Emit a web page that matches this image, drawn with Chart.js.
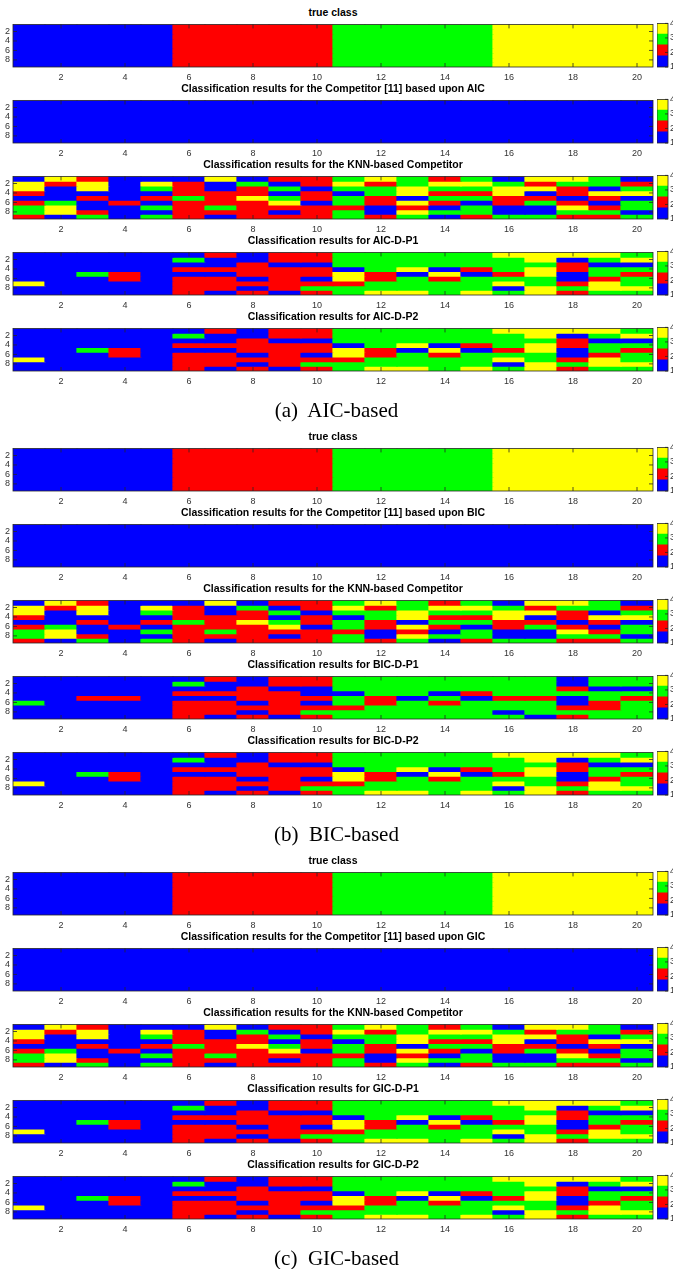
<!DOCTYPE html>
<html>
<head>
<meta charset="utf-8">
<script src="https://cdn.jsdelivr.net/npm/chart.js@4.4.1/dist/chart.umd.min.js"></script>
<style>
  html, body { margin: 0; padding: 0; background: #fff; overflow: hidden; }
  #page { position: relative; width: 673px; height: 1269px; overflow: hidden; }
  canvas { position: absolute; }
  .ptitle {
    position: absolute; left: 13px; width: 640px; text-align: center;
    font: bold 10.5px "Liberation Sans", Arial, sans-serif; color: #000;
    line-height: 12px; white-space: nowrap;
  }
  .caption {
    position: absolute; left: 0; width: 673px; text-align: center;
    font: 21px "Liberation Serif", "Times New Roman", serif; color: #000;
    white-space: pre; line-height: 24px;
  }
</style>
</head>
<body>
<div id="page"></div>
<script>
// Class maps: 9 rows (top to bottom) x 20 columns. 1 blue, 2 red, 3 green, 4 yellow

const xLabels = ['1','2','3','4','5','6','7','8','9','10','11','12','13','14','15','16','17','18','19','20'];
const yRows = [1, 2, 3, 4, 5, 6, 7, 8, 9];
const yTicks = [2, 4, 6, 8];
const classColors = { 1: '#0000ff', 2: '#ff0000', 3: '#00ff00', 4: '#ffff00' };

// colorbar
const cbEdges = [1, 1.75, 2.5, 3.25, 4];
const cbColors = ['#0000ff', '#ff0000', '#00ff00', '#ffff00'];
const cbTicks = [1, 2, 3, 4];

const trueClass = [
  [1,1,1,1,1,2,2,2,2,2,3,3,3,3,3,4,4,4,4,4],
  [1,1,1,1,1,2,2,2,2,2,3,3,3,3,3,4,4,4,4,4],
  [1,1,1,1,1,2,2,2,2,2,3,3,3,3,3,4,4,4,4,4],
  [1,1,1,1,1,2,2,2,2,2,3,3,3,3,3,4,4,4,4,4],
  [1,1,1,1,1,2,2,2,2,2,3,3,3,3,3,4,4,4,4,4],
  [1,1,1,1,1,2,2,2,2,2,3,3,3,3,3,4,4,4,4,4],
  [1,1,1,1,1,2,2,2,2,2,3,3,3,3,3,4,4,4,4,4],
  [1,1,1,1,1,2,2,2,2,2,3,3,3,3,3,4,4,4,4,4],
  [1,1,1,1,1,2,2,2,2,2,3,3,3,3,3,4,4,4,4,4],
];

const competitorClass = [
  [1,1,1,1,1,1,1,1,1,1,1,1,1,1,1,1,1,1,1,1],
  [1,1,1,1,1,1,1,1,1,1,1,1,1,1,1,1,1,1,1,1],
  [1,1,1,1,1,1,1,1,1,1,1,1,1,1,1,1,1,1,1,1],
  [1,1,1,1,1,1,1,1,1,1,1,1,1,1,1,1,1,1,1,1],
  [1,1,1,1,1,1,1,1,1,1,1,1,1,1,1,1,1,1,1,1],
  [1,1,1,1,1,1,1,1,1,1,1,1,1,1,1,1,1,1,1,1],
  [1,1,1,1,1,1,1,1,1,1,1,1,1,1,1,1,1,1,1,1],
  [1,1,1,1,1,1,1,1,1,1,1,1,1,1,1,1,1,1,1,1],
  [1,1,1,1,1,1,1,1,1,1,1,1,1,1,1,1,1,1,1,1],
];

const knnClass = [
  [1,4,2,1,1,1,4,1,2,2,3,4,3,2,3,1,4,4,3,1],
  [4,2,4,1,4,2,1,3,1,2,4,2,3,4,4,3,2,3,3,2],
  [4,1,4,1,3,2,1,2,3,1,3,3,4,3,3,4,4,2,1,3],
  [2,1,1,1,1,2,2,2,1,2,1,3,4,2,2,4,1,2,4,4],
  [1,1,2,1,2,3,2,4,3,2,3,2,1,3,3,2,2,1,2,1],
  [2,3,1,2,1,2,2,2,4,1,3,2,4,2,1,2,3,2,1,3],
  [3,4,1,1,3,2,3,2,2,2,2,1,2,1,3,1,1,4,2,3],
  [3,4,2,1,1,2,2,2,1,2,3,1,4,3,3,1,1,3,3,1],
  [2,1,3,1,3,2,1,2,2,2,3,2,3,1,2,3,3,2,2,3],
];

const aicP1Class = [
  [1,1,1,1,1,1,2,1,2,2,3,3,3,3,3,4,4,4,4,3],
  [1,1,1,1,1,3,1,1,2,2,3,3,3,3,3,3,4,1,3,4],
  [1,1,1,1,1,1,1,2,1,1,3,3,3,3,3,3,3,2,1,1],
  [1,1,1,1,1,2,2,2,2,2,1,3,4,1,2,3,4,2,3,3],
  [1,1,3,2,1,1,1,2,2,2,4,2,1,4,1,2,4,1,3,2],
  [1,1,1,2,1,2,2,1,2,1,4,2,3,2,3,3,3,1,2,3],
  [4,1,1,1,1,2,2,2,2,2,2,3,3,3,3,4,3,2,4,3],
  [1,1,1,1,1,2,2,1,2,3,3,3,3,3,3,1,4,3,4,4],
  [1,1,1,1,1,2,1,2,1,2,3,4,4,3,4,3,4,2,3,3],
];
const aicP2Class = aicP1Class;

const bicP1Class = [
  [1,1,1,1,1,1,2,1,2,2,3,3,3,3,3,3,3,1,3,3],
  [1,1,1,1,1,3,1,1,2,2,3,3,3,3,3,3,3,1,3,3],
  [1,1,1,1,1,1,1,2,1,1,3,3,3,3,3,3,3,2,1,1],
  [1,1,1,1,1,2,2,2,2,1,1,3,3,1,2,3,3,3,3,3],
  [1,1,2,2,1,1,1,2,2,2,3,2,1,3,1,2,2,1,3,2],
  [3,1,1,1,1,2,2,1,2,1,3,2,3,2,3,3,3,1,2,3],
  [1,1,1,1,1,2,2,2,2,2,2,3,3,3,3,3,3,2,2,3],
  [1,1,1,1,1,2,2,1,2,3,3,3,3,3,3,1,3,3,3,3],
  [1,1,1,1,1,2,1,2,1,2,3,3,3,3,3,3,1,2,3,3],
];
const bicP2Class = aicP1Class;
const gicP1Class = aicP1Class;
const gicP2Class = aicP1Class;

const groups = [
  {
    caption: '(a)  AIC-based',
    titles: ['true class', 'Classification results for the Competitor [11] based upon AIC',
      'Classification results for the KNN-based Competitor',
      'Classification results for AIC-D-P1', 'Classification results for AIC-D-P2'],
    maps: [trueClass, competitorClass, knnClass, aicP1Class, aicP2Class],
  },
  {
    caption: '(b)  BIC-based',
    titles: ['true class', 'Classification results for the Competitor [11] based upon BIC',
      'Classification results for the KNN-based Competitor',
      'Classification results for BIC-D-P1', 'Classification results for BIC-D-P2'],
    maps: [trueClass, competitorClass, knnClass, bicP1Class, bicP2Class],
  },
  {
    caption: '(c)  GIC-based',
    titles: ['true class', 'Classification results for the Competitor [11] based upon GIC',
      'Classification results for the KNN-based Competitor',
      'Classification results for GIC-D-P1', 'Classification results for GIC-D-P2'],
    maps: [trueClass, competitorClass, knnClass, gicP1Class, gicP2Class],
  },
];

// ── layout ──
const GROUP_STEP = 424;
const PANEL_STEP = 76;
const FIRST_TOP = 20;
const MAP_H = 47;
const PAD_TOP = 4;
const X_AXIS_H = 17;
const CANVAS_H = PAD_TOP + MAP_H + X_AXIS_H;
const AXIS_COLOR = '#262626';
const TICK_FONT = { family: '"Liberation Sans", Arial, sans-serif', size: 9 };

// MATLAB style box with inward ticks
const boxPlugin = {
  id: 'matlabBox',
  afterDraw(chart, args, opts) {
    const { ctx, chartArea: a } = chart;
    ctx.save();
    ctx.strokeStyle = AXIS_COLOR;
    ctx.lineWidth = 0.8;
    ctx.strokeRect(a.left, a.top, a.right - a.left, a.bottom - a.top);
    ctx.beginPath();
    const len = 4;
    if (opts.xTicks) {
      const xs = chart.scales.x;
      xs.ticks.forEach((t, i) => {
        if ((i + 1) % 2) return;
        const px = xs.getPixelForTick(i);
        ctx.moveTo(px, a.bottom); ctx.lineTo(px, a.bottom - len);
        ctx.moveTo(px, a.top); ctx.lineTo(px, a.top + len);
      });
    }
    const ys = chart.scales.y;
    (opts.yTicks || []).forEach((v) => {
      const py = ys.getPixelForValue(v);
      if (opts.leftTicks) { ctx.moveTo(a.left, py); ctx.lineTo(a.left + len, py); }
      ctx.moveTo(a.right, py); ctx.lineTo(a.right - (opts.rightLen || len), py);
    });
    ctx.stroke();
    ctx.restore();
  },
};

function makeCanvas(page, left, top, w, h) {
  const c = document.createElement('canvas');
  c.width = w; c.height = h;
  c.style.left = left + 'px';
  c.style.top = top + 'px';
  c.style.width = w + 'px';
  c.style.height = h + 'px';
  page.appendChild(c);
  return c;
}

function buildHeatmap(canvas, matrix) {
  const datasets = matrix.map((row, r) => ({
    data: row.map(() => [yRows[r] - 0.5, yRows[r] + 0.5]),
    backgroundColor: row.map((v) => classColors[v]),
    borderWidth: 0,
    inflateAmount: 0.6,
    grouped: false,
    barPercentage: 1,
    categoryPercentage: 1,
  }));

  new Chart(canvas, {
    type: 'bar',
    data: { labels: xLabels, datasets },
    plugins: [boxPlugin],
    options: {
      responsive: false,
      animation: false,
      events: [],
      layout: { padding: { top: PAD_TOP, right: 3, left: 0, bottom: 0 } },
      plugins: {
        legend: { display: false },
        tooltip: { enabled: false },
        matlabBox: { xTicks: true, yTicks: yTicks, leftTicks: true },
      },
      scales: {
        x: {
          grid: { display: false, drawTicks: false },
          border: { display: false },
          ticks: {
            autoSkip: false, maxRotation: 0, padding: 5, color: '#333', font: TICK_FONT,
            callback(val, i) { return (i + 1) % 2 === 0 ? this.getLabelForValue(val) : ''; },
          },
          afterFit(s) { s.height = X_AXIS_H; },
        },
        y: {
          min: 0.5, max: 9.5, reverse: true,
          grid: { display: false, drawTicks: false },
          border: { display: false },
          ticks: { autoSkip: false, padding: 3, color: '#333', font: TICK_FONT },
          afterBuildTicks(s) { s.ticks = yTicks.map((v) => ({ value: v })); },
          afterFit(s) { s.width = 13; },
        },
      },
    },
  });
}

function buildColorbar(canvas) {
  const datasets = cbColors.map((col, i) => ({
    data: [[cbEdges[i], cbEdges[i + 1]]],
    backgroundColor: col,
    borderWidth: 0,
    inflateAmount: 0.6,
    grouped: false,
    barPercentage: 1,
    categoryPercentage: 1,
  }));

  new Chart(canvas, {
    type: 'bar',
    data: { labels: ['c'], datasets },
    plugins: [boxPlugin],
    options: {
      responsive: false,
      animation: false,
      events: [],
      layout: { padding: { top: PAD_TOP, bottom: X_AXIS_H, left: 0, right: 0 } },
      plugins: {
        legend: { display: false },
        tooltip: { enabled: false },
        matlabBox: { xTicks: false, yTicks: cbTicks, leftTicks: false, rightLen: 3 },
      },
      scales: {
        x: { display: false },
        y: {
          position: 'right', min: 1, max: 4,
          grid: { display: false, drawTicks: false },
          border: { display: false },
          ticks: { autoSkip: false, padding: 2, color: '#333', font: TICK_FONT },
          afterBuildTicks(s) { s.ticks = cbTicks.map((v) => ({ value: v })); },
          afterFit(s) { s.width = 5; },
        },
      },
    },
  });
}

const page = document.getElementById('page');

groups.forEach((g, gi) => {
  g.maps.forEach((matrix, k) => {
    const mapTop = FIRST_TOP + GROUP_STEP * gi + PANEL_STEP * k;

    const title = document.createElement('div');
    title.className = 'ptitle';
    title.style.top = (mapTop - 14) + 'px';
    title.textContent = g.titles[k];
    page.appendChild(title);

    buildHeatmap(makeCanvas(page, 0, mapTop - PAD_TOP, 656, CANVAS_H), matrix);
    buildColorbar(makeCanvas(page, 657, mapTop - PAD_TOP, 16, CANVAS_H));
  });

  const cap = document.createElement('div');
  cap.className = 'caption';
  cap.style.top = (398 + GROUP_STEP * gi) + 'px';
  cap.textContent = g.caption;
  page.appendChild(cap);
});
</script>
</body>
</html>
